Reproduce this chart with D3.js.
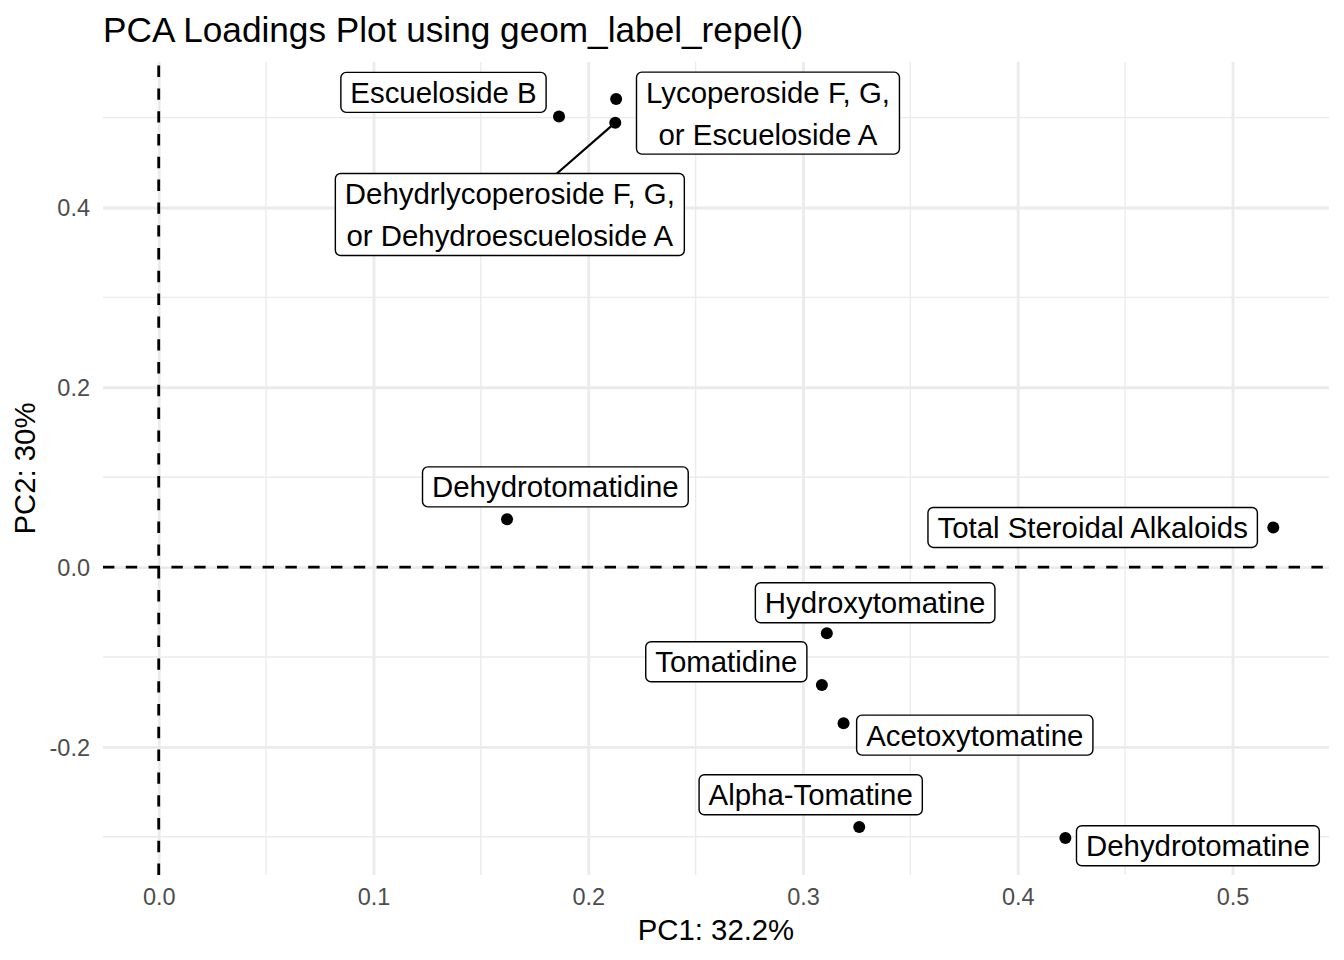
<!DOCTYPE html>
<html>
<head>
<meta charset="utf-8">
<script src="https://cdn.jsdelivr.net/npm/d3@7"></script>
<style>
    body { margin: 0; background: #fff; }
    text { font-family: "Liberation Sans", Arial, Helvetica, sans-serif; }
</style>
</head>
<body>
<svg id="chart" width="1344" height="960"></svg>
<script>
// loadings
const loading_names = [
    "Total Steroidal Alkaloids",
    "Dehydrotomatine",
    "Alpha-Tomatine",
    "Acetoxytomatine",
    "Tomatidine",
    "Hydroxytomatine",
    "Dehydrotomatidine",
    "Escueloside B",
    "Lycoperoside F, G,\nor Escueloside A",
    "Dehydrlycoperoside F, G,\nor Dehydroescueloside A",
]
const pc1_values = [0.519, 0.4222, 0.3262, 0.3189, 0.3088, 0.3111, 0.1622, 0.1864, 0.2130, 0.2126]
const pc2_values = [0.0441, -0.3015, -0.2893, -0.1737, -0.1311, -0.0737, 0.0533, 0.5014, 0.5208, 0.4944]

// where the repel step left each label (centre, data units)
const label_pc1 = [0.4349, 0.4839, 0.3036, 0.3800, 0.2643, 0.3336, 0.1847, 0.1326, 0.2837, 0.1635]
const label_pc2 = [0.0441, -0.3100, -0.2533, -0.1870, -0.1053, -0.0397, 0.0892, 0.5281, 0.5050, 0.3922]

const x_ticks = [0, 0.1, 0.2, 0.3, 0.4, 0.5]
const x_minor = [0.05, 0.15, 0.25, 0.35, 0.45]
const y_ticks = [-0.2, 0, 0.2, 0.4]
const y_minor = [-0.3, -0.1, 0.1, 0.3, 0.5]

const title_text = "PCA Loadings Plot using geom_label_repel()"
const x_title = "PC1: 32.2%"
const y_title = "PC2: 30%"

// layout
const svg = d3.select("#chart")
const panel = {left: 103, right: 1329, top: 62, bottom: 875}

let expand = function(vals){
    let [lo, hi] = d3.extent(vals.concat([0]))
    let pad = (hi - lo)*0.05
    return [lo - pad, hi + pad]
}

const x = d3.scaleLinear().domain(expand(pc1_values)).range([panel.left, panel.right])
const y = d3.scaleLinear().domain(expand(pc2_values)).range([panel.bottom, panel.top])

svg.append("rect").attr("width", 1344).attr("height", 960).attr("fill", "#fff")

// grid
const grid = svg.append("g").attr("class", "grid")
grid.selectAll(".xminor").data(x_minor).join("line")
    .attr("x1", d => x(d)).attr("x2", d => x(d))
    .attr("y1", panel.top).attr("y2", panel.bottom)
    .attr("stroke", "#ebebeb").attr("stroke-width", 1.42)
grid.selectAll(".yminor").data(y_minor).join("line")
    .attr("y1", d => y(d)).attr("y2", d => y(d))
    .attr("x1", panel.left).attr("x2", panel.right)
    .attr("stroke", "#ebebeb").attr("stroke-width", 1.42)

// major grid + tick labels via axes
const x_axis = d3.axisBottom(x).tickValues(x_ticks).tickFormat(d3.format(".1f"))
    .tickSize(-(panel.bottom - panel.top)).tickPadding(13)
const y_axis = d3.axisLeft(y).tickValues(y_ticks).tickFormat(d => d3.format(".1f")(d).replace("−", "-"))
    .tickSize(-(panel.right - panel.left)).tickPadding(13)

let style_axis = function(g){
    g.select(".domain").remove()
    g.selectAll(".tick line").attr("stroke", "#ebebeb").attr("stroke-width", 2.85)
    g.selectAll(".tick text").attr("fill", "#4d4d4d").attr("font-size", 23.5)
        .style("font-family", "'Liberation Sans', Arial, Helvetica, sans-serif")
}

svg.append("g").attr("transform", `translate(0,${panel.bottom})`).call(x_axis).call(style_axis)
    .selectAll(".tick text").attr("dy", "0.71em").attr("y", 13)
svg.append("g").attr("transform", `translate(${panel.left},0)`).call(y_axis).call(style_axis)
    .selectAll(".tick text").attr("dy", "0.35em")

// reference lines at zero
svg.append("line")
    .attr("x1", x(0)).attr("x2", x(0)).attr("y1", panel.bottom).attr("y2", panel.top)
    .attr("stroke", "#000").attr("stroke-width", 2.85).attr("stroke-dasharray", "11.4,11.4")
svg.append("line")
    .attr("x1", panel.left).attr("x2", panel.right).attr("y1", y(0)).attr("y2", y(0))
    .attr("stroke", "#000").attr("stroke-width", 2.85).attr("stroke-dasharray", "11.4,11.4")

// points
svg.append("g").selectAll("circle").data(d3.range(loading_names.length)).join("circle")
    .attr("cx", i => x(pc1_values[i])).attr("cy", i => y(pc2_values[i]))
    .attr("r", 6).attr("fill", "#000")

// labels
const font_size = 29.4
const cap_h = 21
const line_gap = 42
const pad_x = 9.5
const pad_y = 9.5
const min_seg = 35

const labels = svg.append("g").attr("class", "labels")
loading_names.forEach(function(name, i){
    let lines = name.split("\n")
    let cx = x(label_pc1[i]), cy = y(label_pc2[i])
    let px = x(pc1_values[i]), py = y(pc2_values[i])
    let h = cap_h + (lines.length - 1)*line_gap + 2*pad_y

    let g = labels.append("g")
    let seg = g.append("line")
    let box = g.append("rect")
    let txt = g.append("text")
        .attr("font-size", font_size).attr("fill", "#000").attr("text-anchor", "middle")
    let top_base = cy - h/2 + pad_y + cap_h
    lines.forEach(function(l, k){
        txt.append("tspan").attr("x", cx).attr("y", top_base + k*line_gap).text(l)
    })
    let w = d3.max(txt.selectAll("tspan").nodes(), n => n.getComputedTextLength()) + 2*pad_x

    box.attr("x", cx - w/2).attr("y", cy - h/2).attr("width", w).attr("height", h)
        .attr("rx", 5.3).attr("ry", 5.3)
        .attr("fill", "#fff").attr("stroke", "#000").attr("stroke-width", 1.42)

    // segment from point toward label centre, clipped at box edge
    let dx = cx - px, dy = cy - py
    let tx = dx === 0 ? Infinity : (Math.abs(dx) - w/2)/Math.abs(dx)
    let ty = dy === 0 ? Infinity : (Math.abs(dy) - h/2)/Math.abs(dy)
    let t = Math.max(Math.min(tx, ty), 0)
    if(tx < 0 || ty < 0) t = Math.max(tx, ty)
    let ex = px + dx*t, ey = py + dy*t
    let len = Math.hypot(ex - px, ey - py)
    if(t > 0 && len > min_seg){
        seg.attr("x1", px).attr("y1", py).attr("x2", ex).attr("y2", ey)
            .attr("stroke", "#000").attr("stroke-width", 2.2)
    } else {
        seg.remove()
    }
})

// titles
svg.append("text").attr("x", panel.left).attr("y", 42)
    .attr("font-size", 35.2).attr("fill", "#000").text(title_text)
svg.append("text").attr("x", (panel.left + panel.right)/2).attr("y", 940)
    .attr("font-size", 29.3).attr("fill", "#000").attr("text-anchor", "middle").text(x_title)
svg.append("text")
    .attr("transform", `translate(35,${(panel.top + panel.bottom)/2}) rotate(-90)`)
    .attr("font-size", 29.3).attr("fill", "#000").attr("text-anchor", "middle").text(y_title)
</script>
</body>
</html>
